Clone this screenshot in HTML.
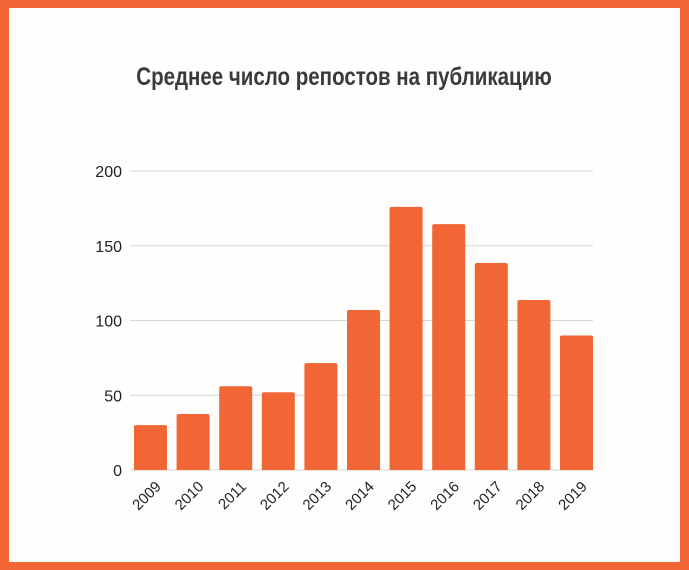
<!DOCTYPE html>
<html><head><meta charset="utf-8"><style>
html,body{margin:0;padding:0;background:#fff}
#wrap{width:689px;height:570px;box-sizing:border-box;border:9px solid #F26535;border-top-width:8px;border-bottom-width:8px;background:#fffefc;position:relative}
svg{position:absolute;left:-9px;top:-8px}
text{font-family:"Liberation Sans",sans-serif}
</style></head><body>
<div id="wrap">
<svg id="chart" width="689" height="570">
<text x="344" y="85" text-anchor="middle" font-size="25" font-weight="bold" fill="#3a3a3a" transform="translate(344 0) scale(0.82 1) translate(-344 0)">Среднее число репостов на публикацию</text>
</svg>
</div>
<script>
const categories=["2009","2010","2011","2012","2013","2014","2015","2016","2017","2018","2019"];
const values=[30,37.5,56,52,71.5,107,176,164.5,138.5,113.7,90];
const yTicks=[0,50,100,150,200];
const svg=document.getElementById('chart');
const NS='http://www.w3.org/2000/svg';
const y0=470,yTop=171,yMax=200,x0=134,step=42.6,bw=33;
const y=v=>y0-(v/yMax)*(y0-yTop);
const x=i=>x0+i*step;
function mk(t,a){const e=document.createElementNS(NS,t);for(const k in a)e.setAttribute(k,a[k]);svg.appendChild(e);return e;}
yTicks.forEach(t=>{
 const l=mk('line',{x1:130,x2:593,y1:y(t),y2:y(t),stroke:'#d6d6d6','stroke-width':1});
 
 
 const tx=mk('text',{x:122,y:y(t)+6,'text-anchor':'end','font-size':16,fill:'#222'});
 tx.textContent=t;
 
 
});
values.forEach((v,i)=>{
 const h=y0-y(v);
 const r=mk('path',{d:`M${x(i)},${y0}V${y(v)+2}Q${x(i)},${y(v)} ${x(i)+2},${y(v)}H${x(i)+bw-2}Q${x(i)+bw},${y(v)} ${x(i)+bw},${y(v)+2}V${y0}Z`,fill:'#F26535'});
 
 
 const cx=x(i)+bw/2+4, cy=y0+10;
 const t=mk('text',{x:cx,y:cy,'text-anchor':'end','font-size':15,fill:'#222',transform:`rotate(-45 ${cx} ${cy})`,dy:'0.7em'});
 t.textContent=categories[i];
 
 
});
</script>
</body></html>
